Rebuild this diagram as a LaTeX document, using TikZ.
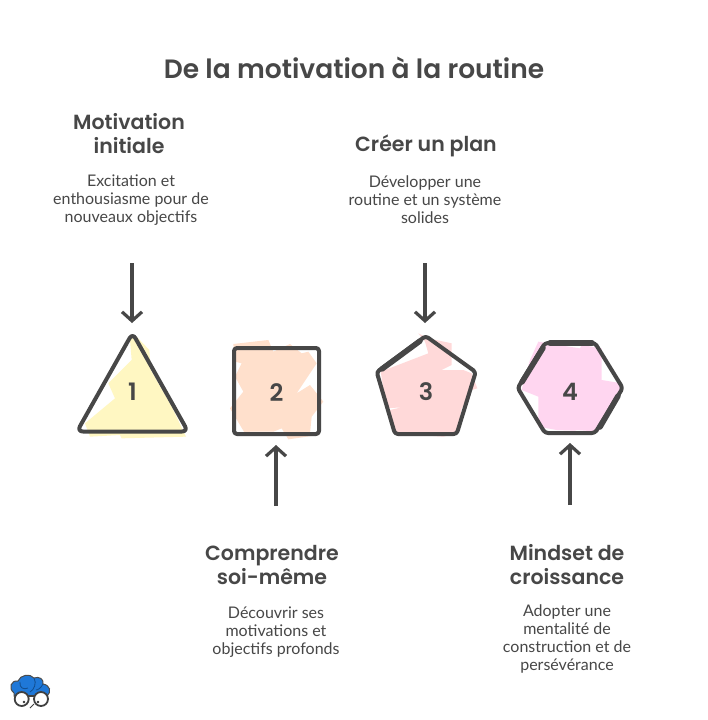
\documentclass[tikz,border=0pt]{standalone}
\usepackage{fontspec}
\setmainfont{Lato}
\newfontfamily\headfont{Poppins}[BoldFont={Poppins SemiBold}]
\usetikzlibrary{arrows.meta}
\definecolor{ink}{HTML}{474747}
\definecolor{fyellow}{HTML}{FFF7C2}
\definecolor{forange}{HTML}{FFE0CC}
\definecolor{fpink}{HTML}{FFD9D9}
\definecolor{fmag}{HTML}{FFD6F0}
\definecolor{cloudblue}{HTML}{1F78D8}
\definecolor{clouddark}{HTML}{124C8C}
\tikzset{
  titletext/.style={text=ink,font=\headfont\bfseries\fontsize{26.5}{30}\selectfont,align=center,inner sep=0pt},
  headtext/.style={text=ink,font=\headfont\bfseries\fontsize{20.5}{24}\selectfont,align=center,inner sep=0pt},
  bodytext/.style={text=ink,font=\fontsize{16}{18}\selectfont,align=center,inner sep=0pt},
  numtext/.style={text=ink,font=\headfont\bfseries\fontsize{24}{24}\selectfont,inner sep=0pt},
  outline/.style={draw=ink,line width=4pt,rounded corners=3pt,line join=round},
  thicker/.style={draw=ink,line width=5.5pt,line cap=round},
  slot/.style={inner sep=0pt,outer sep=0pt,rectangle},
  flow/.style={draw=ink,line width=3.2pt,-{Straight Barb[length=9pt,width=20pt,line width=3.2pt]}}
}
\begin{document}
\begin{tikzpicture}[x=1pt,y=-1pt]
\useasboundingbox (0,0) rectangle (708,720);
\fill[white] (0,0) rectangle (708,720);
% colour patches
\begin{scope}[shift={(60,320)},scale=1/3]
\fill[fyellow] (225,45)--(268,90)--(272,150)--(335,260)--(378,350)--(185,355)--(180,345)--(90,350)--(75,310)--(165,235)--(145,190)--(215,120)--(210,60)--cycle;
\fill[forange] (520,72)--(625,60)--(640,95)--(690,72)--(725,100)--(745,95)--(770,130)--(710,220)--(750,195)--(790,245)--(755,290)--(750,340)--(775,345)--(685,358)--(665,325)--(640,335)--(570,335)--(555,340)--(510,265)--(550,215)--(525,170)--(545,130)--(525,125)--cycle;
\end{scope}
\begin{scope}[shift={(360,320)},scale=1/3]
\fill[fpink] (175,40)--(205,55)--(275,70)--(275,135)--(245,150)--(310,150)--(335,160)--(352,205)--(335,210)--(305,265)--(290,340)--(250,350)--(100,340)--(90,270)--(125,262)--(80,265)--(62,155)--(205,100)--(195,65)--cycle;
\fill[fmag] (535,65)--(595,75)--(660,85)--(665,75)--(725,85)--(725,180)--(785,190)--(785,210)--(715,335)--(650,330)--(645,332)--(590,330)--(535,320)--(535,230)--(485,210)--(495,170)--(510,120)--cycle;
\end{scope}
% shapes
\draw[outline,rounded corners=6pt] (132.5,333)--(188,431.5)--(77,431.5)--cycle;
\draw[outline] (234,348) rectangle (319,434);
\draw[outline] (425.7,336)--(475.7,372)--(456.7,434)--(395,434)--(376.7,372)--cycle;
\draw[thicker] (420,341)--(382,369);
\draw[outline] (545,343)--(595,343)--(622.7,388)--(595,433)--(545,433)--(517.7,388)--cycle;
\draw[thicker] (550,343)--(592,343);
\draw[thicker] (543,348)--(522,382);
\draw[thicker] (618,396)--(600,427);
% slots and numbers
\node[slot,minimum width=110pt,minimum height=96pt] (s1) at (132.5,386) {};
\node[slot,minimum width=85pt,minimum height=86pt] (s2) at (276.5,391) {};
\node[slot,minimum width=99pt,minimum height=98pt] (s3) at (426,385) {};
\node[slot,minimum width=105pt,minimum height=90pt] (s4) at (570,388) {};
\node[numtext] (n1) at (132.5,392) {1};
\node[numtext] (n2) at (276.5,393) {2};
\node[numtext] (n3) at (426,392) {3};
\node[numtext] (n4) at (570,392) {4};
% texts
\node[titletext] (title) at (354,68) {De la motivation à la routine};
\node[headtext] (h1) at (129,134) {Motivation\\initiale};
\node[bodytext] (b1) at (131,200.5) {Excitation et\\enthousiasme pour de\\nouveaux objectifs};
\node[headtext] (h3) at (426,146) {Créer un plan};
\node[bodytext] (b3) at (425,200) {Développer une\\routine et un système\\solides};
\node[headtext] (h2) at (272,565) {Comprendre\\soi-même};
\node[bodytext] (b2) at (276,632.5) {Découvrir ses\\motivations et\\objectifs profonds};
\node[headtext] (h4) at (567,565) {Mindset de\\croissance};
\node[bodytext] (b4) at (567,639) {Adopter une\\mentalité de\\construction et de\\persévérance};
% connectors
\coordinate (a1) at (132,263);
\coordinate (a3) at (425,263);
\coordinate (a2) at (276,506);
\coordinate (a4) at (570,505);
\draw[flow,shorten >=15pt] (a1) -- (a1 |- s1.north);
\draw[flow,shorten >=13pt] (a3) -- (a3 |- s3.north);
\draw[flow,shorten >=11pt] (a2) -- (a2 |- s2.south);
\draw[flow,shorten >=10pt] (a4) -- (a4 |- s4.south);
% logo
\begin{scope}
\draw[black!70,line width=1pt,fill=cloudblue] (14,693) .. controls (8,688) and (11,680) .. (18,681) .. controls (20,675) and (30,673) .. (34,678) .. controls (39,676) and (44,679) .. (43,684) .. controls (50,685) and (52,692) .. (47,696) -- (14,696) -- cycle;
\draw[clouddark,line width=.8pt] (20,682) .. controls (19,688) and (24,690) .. (28,688) (34,678) .. controls (37,683) and (34,690) .. (30,692) (43,684) .. controls (41,688) and (38,690) .. (36,690);
\draw[black!75,line width=1.8pt,fill=white] (21.7,699) circle (7pt);
\draw[black!75,line width=1.8pt,fill=white] (41,699) circle (7pt);
\draw[black!75,line width=1.5pt] (28,696) -- (35,696);
\fill[black!80] (24,702) circle (1.3pt) (38,702) circle (1.3pt);
\draw[black!75,line width=.9pt] (34,704) -- (30,708);
\end{scope}
\end{tikzpicture}
\end{document}
